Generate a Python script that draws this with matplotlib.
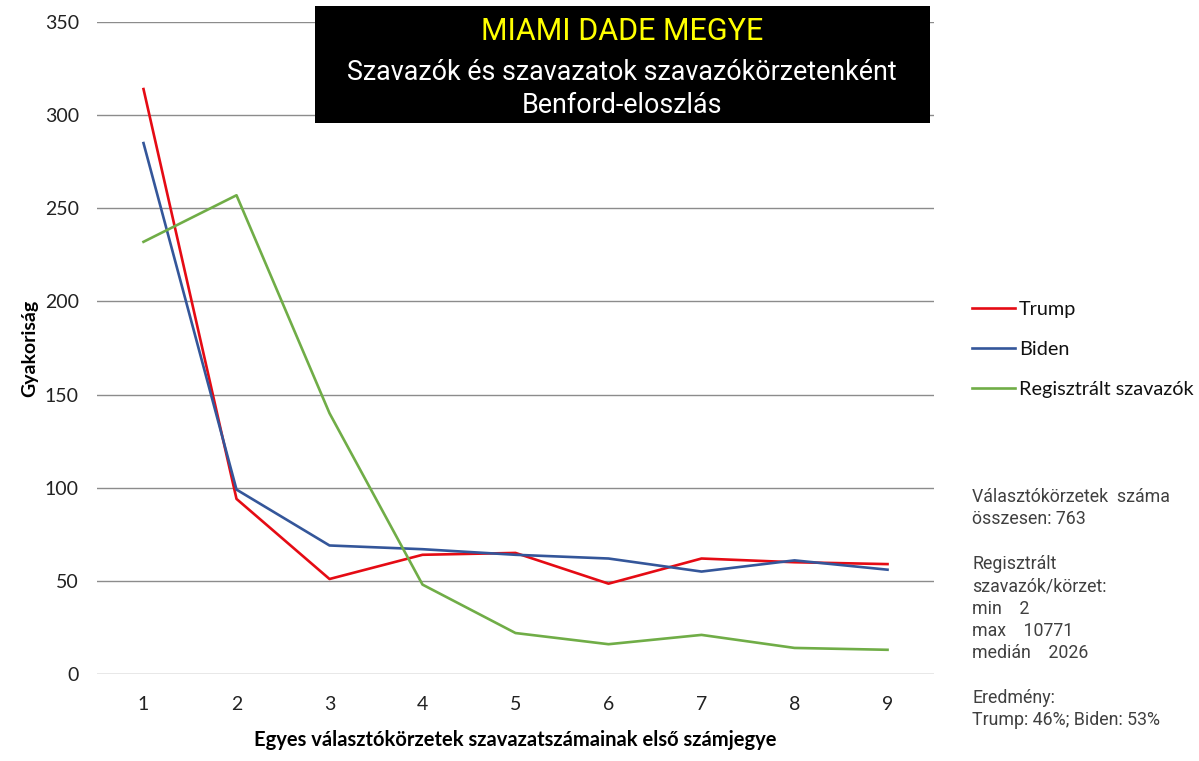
import matplotlib.pyplot as plt
from matplotlib.patches import Rectangle

# first digit 1..9
digits = [1, 2, 3, 4, 5, 6, 7, 8, 9]
trump = [314, 94, 51, 64, 65, 48.5, 62, 60, 59]
biden = [285, 99, 69, 67, 64, 62, 55, 61, 56]
registered = [232, 257, 140, 48, 22, 16, 21, 14, 13]
series_names = ["Trump", "Biden", "Regisztrált szavazók"]
series_colors = ["#E50B14", "#34569A", "#70AD47"]
y_ticks = [0, 50, 100, 150, 200, 250, 300, 350]

title_lines = ["MIAMI DADE MEGYE",
               "Szavazók és szavazatok szavazókörzetenként",
               "Benford-eloszlás"]
note_lines = ["Választókörzetek  száma", "összesen: 763", "",
              "Regisztrált", "szavazók/körzet:", "min    2", "max    10771",
              "medián    2026", "", "Eredmény:", "Trump: 46%; Biden: 53%"]

narrow = ["Roboto", "DejaVu Sans"]
plt.rcParams['font.family'] = ["Lato", "DejaVu Sans"]

fig = plt.figure(figsize=(11.99, 7.61), dpi=100)
ax = fig.add_axes([0.0809, 0.1143, 0.779 - 0.0809, 0.9711 - 0.1143])

for vals, name, col in zip([trump, biden, registered], series_names, series_colors):
    ax.plot(digits, vals, color=col, lw=1.9, label=name, zorder=3)

ax.set_xlim(0.5, 9.5)
ax.set_ylim(0, 350)
ax.set_xticks(digits)
ax.set_yticks(y_ticks)
ax.grid(axis='y', color='#8c8c8c', lw=1)
ax.set_axisbelow(True)
for s in ax.spines.values():
    s.set_visible(False)
ax.tick_params(length=0, labelsize=14, colors='#222222')
ax.tick_params(axis='y', pad=13)
ax.tick_params(axis='x', pad=16)
ax.set_ylabel("Gyakoriság", fontsize=14, fontweight='bold', labelpad=5)
ax.set_xlabel("Egyes választókörzetek szavazatszámainak első számjegye",
              fontsize=14.5, fontweight='bold', labelpad=12)

leg = fig.legend(loc='upper left', bbox_to_anchor=(0.8025, 0.6175), frameon=False,
                 borderpad=0, handlelength=2.15, handletextpad=0.2, labelspacing=1.15,
                 prop={'size': 14.3})
for t in leg.get_texts():
    t.set_color('#111111')

fig.add_artist(Rectangle((0.2627, 0.8384), 0.513, 0.1536, transform=fig.transFigure,
                         facecolor='black', edgecolor='none', zorder=1))
fig.text(0.519, 0.959, title_lines[0], color='#FFFF00', fontsize=22,
         family=narrow, ha='center', va='center', zorder=4)
fig.text(0.519, 0.905, title_lines[1], color='white', fontsize=19.4,
         family=narrow, ha='center', va='center', zorder=4)
fig.text(0.519, 0.861, title_lines[2], color='white', fontsize=19.4,
         family=narrow, ha='center', va='center', zorder=4)

for i, line in enumerate(note_lines):
    fig.text(0.811, 1 - (497 + i * 22.3) / 761, line, fontsize=12.8, family=narrow,
             color='#404040', ha='left', va='center')

fig.savefig("out.png", dpi=100)
